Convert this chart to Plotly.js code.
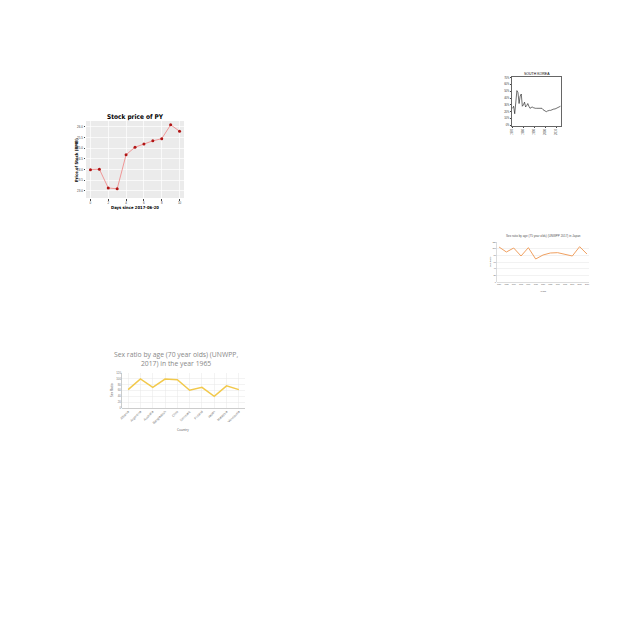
<!DOCTYPE html>
<html><head><meta charset="utf-8">
<script src="https://cdn.plot.ly/plotly-3.0.1.min.js"></script>
<style>html,body{margin:0;padding:0;background:#fff}#c{width:640px;height:640px}</style>
</head><body><div id="c"></div>
<script>
// Chart 1: Stock price of PY
const stockDays = [0,1,2,3,4,5,6,7,8,9,10];
const stockPrice = [24.0,24.02,23.14,23.1,24.7,25.05,25.2,25.35,25.45,26.1,25.8];
// Chart 2: South Korea
const skYears = [];
for (let y = 1970; y <= 2014; y++) skYears.push(y);
const skValues = [25,28,17,36,51,48,32,43,46,28,30,34,27,29,32,28,25,26,27,26,25,25,25,25,24,25,25,25,23,22,21,20,21,22,22,22,23,23,24,24,25,25,26,27,28];
const skTickVals = [1970,1980,1990,2000,2010];
// Chart 3: Japan sex ratio 75 year olds
const jpYears = [1950,1955,1960,1965,1970,1975,1980,1985,1990,1995,2000,2005,2010];
const jpRatio = [105,90,102,78,103,69,81,87,88,84,78,106,84];
// Chart 4: 70 year olds in 1965
const countries = ["Albania","Argentina","Australia","Bangladesh","Chile","Denmark","Finland","Japan","Malaysia","Venezuela"];
const ratio1965 = [63,100,71,99,97,61,71,40,76,63];

const W = 640, H = 640;
const dx = (a,b)=>[a/W,b/W];
const dy = (top,bot)=>[1-bot/H,1-top/H];

const traces = [
  {x: stockDays, y: stockPrice, xaxis:'x', yaxis:'y', mode:'lines+markers',
   line:{color:'#f08080', width:0.8}, marker:{color:'#b01515', size:3}},
  {x: skYears, y: skValues, xaxis:'x2', yaxis:'y2', mode:'lines',
   line:{color:'#111', width:0.6}},
  {x: jpYears, y: jpRatio, xaxis:'x3', yaxis:'y3', mode:'lines',
   line:{color:'#f0a060', width:1}},
  {x: countries, y: ratio1965, xaxis:'x4', yaxis:'y4', mode:'lines',
   line:{color:'#f2c94c', width:1.5}}
];

const tf = (s,c)=>({size:s, color:c||'#444', family:'Liberation Sans, Arial'});
const ann = (text, px, py, font, angle)=>({text, xref:'paper', yref:'paper', x:px/W, y:1-py/H,
  xanchor:'center', yanchor:'middle', showarrow:false, textangle:angle||0, font});

const layout = {
  width:W, height:H, autosize:false, showlegend:false,
  margin:{l:0,r:0,t:0,b:0}, paper_bgcolor:'#fff', plot_bgcolor:'rgba(0,0,0,0)',
  xaxis:{domain:dx(86,184), anchor:'y', range:[-0.5,10.5], tickvals:[0,2,4,6,8,10],
    showgrid:true, gridcolor:'#fff', gridwidth:0.7, zeroline:false, ticks:'outside', ticklen:1.5, tickcolor:'#444',
    tickfont:tf(3,'#444')},
  yaxis:{domain:dy(121,198), anchor:'x', range:[22.67,26.28], tickvals:[23,23.5,24,24.5,25,25.5,26],
    ticktext:['23.0','23.5','24.0','24.5','25.0','25.5','26.0'],
    showgrid:true, gridcolor:'#fff', gridwidth:0.7, zeroline:false, ticks:'outside', ticklen:1.5, tickcolor:'#444',
    tickfont:tf(3,'#444')},
  xaxis2:{domain:dx(512,561), anchor:'y2', range:[1969.5,2014.5], tickvals:skTickVals, tickangle:-90,
    showgrid:false, zeroline:false, showline:true, mirror:true, linecolor:'#000', linewidth:0.6,
    ticks:'outside', ticklen:1.5, tickfont:tf(2.6,'#333')},
  yaxis2:{domain:dy(77,126), anchor:'x2', range:[-1,71], tickvals:[0,10,20,30,40,50,60,70],
    ticktext:['0%','10%','20%','30%','40%','50%','60%','70%'],
    showgrid:false, zeroline:false, showline:true, mirror:true, linecolor:'#000', linewidth:0.6,
    ticks:'outside', ticklen:1.5, tickfont:tf(2.6,'#333')},
  xaxis3:{domain:dx(497,589), anchor:'y3', range:[1948.6,2011.4], tickvals:jpYears, tickangle:0,
    showgrid:false, zeroline:false, showline:true, linecolor:'#bbb', linewidth:0.5,
    ticks:'', tickfont:tf(1.8,'#555')},
  yaxis3:{domain:dy(242,282), anchor:'x3', range:[0,120], tickvals:[0,20,40,60,80,100,120],
    showgrid:true, gridcolor:'#e6e6e6', gridwidth:0.5, zeroline:false, showline:true, linecolor:'#bbb', linewidth:0.5,
    ticks:'', tickfont:tf(2.2,'#555')},
  xaxis4:{domain:dx(122,245), anchor:'y4', range:[-0.5,9.5], tickangle:-45,
    showgrid:true, gridcolor:'#e8e8e8', gridwidth:0.5, zeroline:false, showline:true, linecolor:'#999', linewidth:0.5,
    ticks:'', tickfont:tf(3.3,'#777')},
  yaxis4:{domain:dy(373,408), anchor:'x4', range:[0,120], tickvals:[0,20,40,60,80,100,120],
    showgrid:true, gridcolor:'#e8e8e8', gridwidth:0.5, zeroline:false, showline:true, linecolor:'#999', linewidth:0.5,
    ticks:'', tickfont:tf(2.8,'#777')},
  shapes:[
    {type:'rect', xref:'x domain', yref:'y domain', x0:0, x1:1, y0:0, y1:1, fillcolor:'#ebebeb', line:{width:0}, layer:'below'}
  ],
  annotations:[
    ann('Stock price of PY', 135, 117, {size:6.5, color:'#000', family:'Liberation Sans Narrow, DejaVu Sans Condensed', weight:'bold'}),
    ann('Days since 2017-06-20', 135, 207, {size:4.2, color:'#000', family:'Liberation Sans Narrow, DejaVu Sans Condensed', weight:'bold'}),
    ann('Price of Stock (RMB)', 76, 160, {size:4.2, color:'#000', family:'Liberation Sans Narrow, DejaVu Sans Condensed', weight:'bold'}, -90),
    ann('SOUTH KOREA', 537, 74, {size:3.5, color:'#000', family:'Liberation Sans, Arial'}),
    ann('Sex ratio by age (75 year olds) (UNWPP 2017) in Japan', 543, 236, {size:3, color:'#555', family:'Liberation Sans, Arial'}),
    ann('Sex Ratio', 490, 262, {size:2.4, color:'#555', family:'Liberation Sans, Arial'}, -90),
    ann('Years', 543, 291, {size:2.4, color:'#555', family:'Liberation Sans, Arial'}),
    ann('Sex ratio by age (70 year olds) (UNWPP,<br>2017) in the year 1965', 176, 359, {size:6.8, color:'#888', family:'Open Sans'}),
    ann('Sex Ratio', 112, 390, {size:3.2, color:'#555', family:'Open Sans'}, -90),
    ann('Country', 183, 430, {size:3.2, color:'#555', family:'Open Sans'})
  ]
};
Plotly.newPlot('c', traces, layout, {staticPlot:true, displayModeBar:false});
</script></body></html>
